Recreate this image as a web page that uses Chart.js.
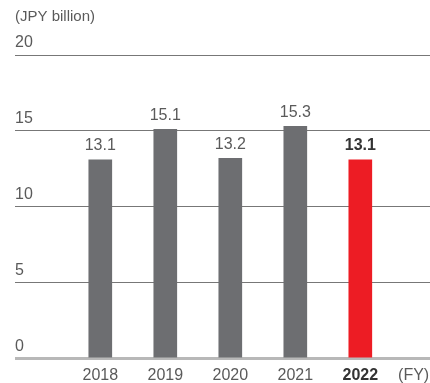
<!DOCTYPE html>
<html>
<head>
<meta charset="utf-8">
<script src="https://cdn.jsdelivr.net/npm/chart.js@4"></script>
<style>
  html, body { margin: 0; padding: 0; background: #fff; }
  #wrap { width: 430px; height: 383px; }
</style>
</head>
<body>
<div id="wrap"><canvas id="sales-chart"></canvas></div>
<script>
// fiscal years and values (JPY billion)
var years = ['2018', '2019', '2020', '2021', '2022'];
var values = [13.1, 15.1, 13.2, 15.3, 13.1];
var yTicks = [0, 5, 10, 15, 20];
var unitLabel = '(JPY billion)';
var fyLabel = '(FY)';

var FONT = "'Liberation Sans', Arial, sans-serif";
var GRAY = '#6d6e71';
var RED = '#ed1c24';
var TEXT = '#5a5a5a';

// x positions are the year index; the (FY) caption sits just after the last year
var xTickValues = years.map(function (y, i) { return i; }).concat([years.length - 0.18]);
var xTickLabels = years.concat([fyLabel]);

var valueLabels = {
    id: 'valueLabels',
    afterDatasetsDraw: function (chart) {
        var ctx = chart.ctx;
        var meta = chart.getDatasetMeta(0);
        ctx.save();
        ctx.textAlign = 'center';
        ctx.textBaseline = 'bottom';
        meta.data.forEach(function (bar, i) {
            var last = i === values.length - 1;
            ctx.font = (last ? 'bold ' : '') + '16px ' + FONT;
            ctx.fillStyle = last ? '#333' : TEXT;
            ctx.fillText(values[i].toFixed(1), bar.x, bar.y - 6);
        });
        ctx.restore();
    }
};

var ctx = document.getElementById('sales-chart').getContext('2d');
window.salesChart = new Chart(ctx, {
    type: 'bar',
    data: {
        datasets: [{
            data: values.map(function (v, i) { return { x: i, y: v }; }),
            backgroundColor: values.map(function (v, i) { return i === values.length - 1 ? RED : GRAY; }),
            barThickness: 23,
            borderWidth: 0
        }]
    },
    options: {
        responsive: true,
        maintainAspectRatio: false,
        animation: false,
        layout: { padding: { left: 15, right: 0, top: 0, bottom: 0 } },
        plugins: {
            legend: { display: false },
            tooltip: { enabled: false },
            title: {
                display: true,
                text: unitLabel,
                align: 'start',
                color: TEXT,
                font: { family: FONT, size: 15, weight: 'normal' },
                padding: { top: 8, bottom: 29 }
            }
        },
        scales: {
            x: {
                type: 'linear',
                min: -1.312,
                max: 5.072,
                offset: false,
                grid: { display: false, drawTicks: false },
                border: { display: false },
                afterBuildTicks: function (scale) {
                    scale.ticks = xTickValues.map(function (v) { return { value: v }; });
                },
                afterFit: function (scale) {
                    scale.paddingLeft = 0;
                    scale.paddingRight = 0;
                    scale.height = 24.3;
                },
                ticks: {
                    autoSkip: false,
                    maxRotation: 0,
                    padding: 7,
                    color: function (c) { return c.index === 4 ? '#333' : TEXT; },
                    font: function (c) {
                        return { family: FONT, size: 16, weight: c.index === 4 ? 'bold' : 'normal' };
                    },
                    callback: function (value, index) { return xTickLabels[index]; }
                }
            },
            y: {
                min: 0,
                max: 20,
                afterBuildTicks: function (scale) {
                    scale.ticks = yTicks.map(function (v) { return { value: v }; });
                },
                afterFit: function (scale) {
                    scale.paddingTop = 0;
                    scale.paddingBottom = 0;
                },
                grid: {
                    drawTicks: false,
                    color: function (c) { return c.tick && c.tick.value === 0 ? '#b8b8b8' : '#777'; },
                    lineWidth: function (c) { return c.tick && c.tick.value === 0 ? 3 : 1; }
                },
                border: { display: false },
                ticks: {
                    mirror: true,
                    padding: 0,
                    labelOffset: -12,
                    color: TEXT,
                    font: { family: FONT, size: 16 }
                }
            }
        }
    },
    plugins: [valueLabels]
});
</script>
</body>
</html>
